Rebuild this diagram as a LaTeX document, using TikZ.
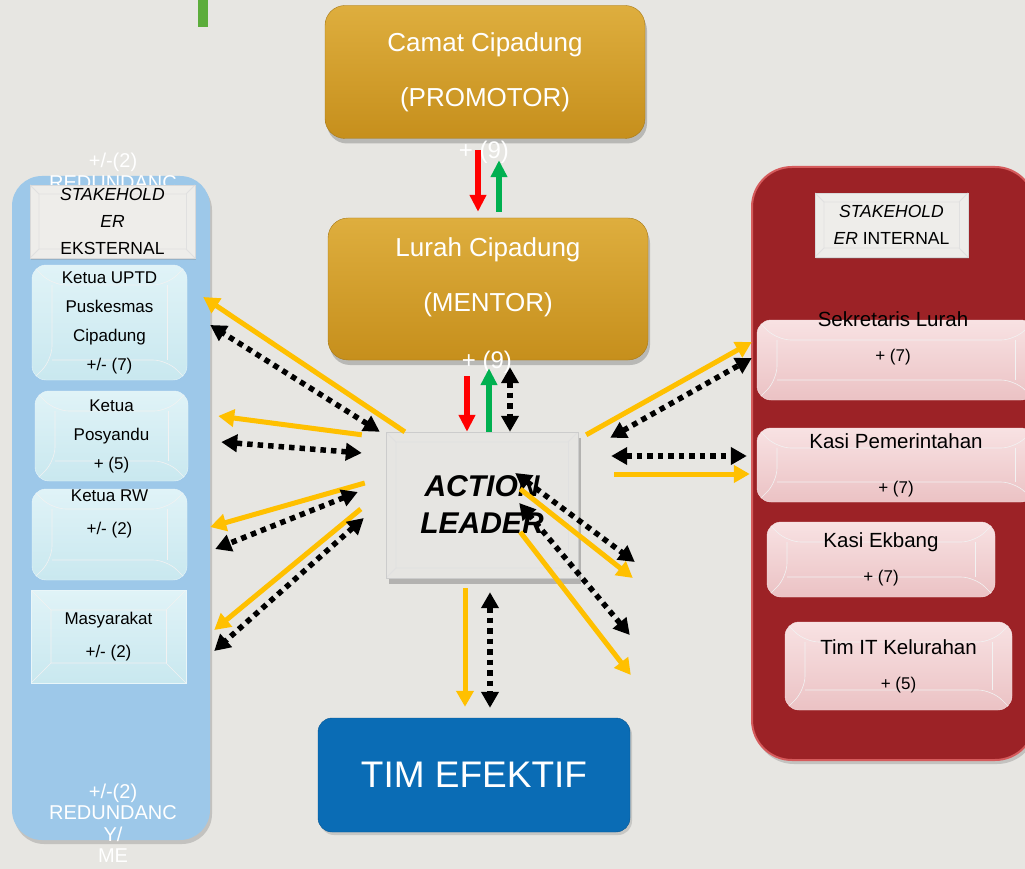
\documentclass[tikz,border=0pt]{standalone}
\usepackage{fontspec}
\setmainfont{Liberation Sans}
\usetikzlibrary{arrows.meta,shadows,calc,positioning}

\definecolor{bg}{HTML}{E7E6E2}
\definecolor{goldtop}{HTML}{DEAE3E}
\definecolor{goldbot}{HTML}{C68F1C}
\definecolor{skyp}{HTML}{9DC8E9}
\definecolor{cyantop}{HTML}{E0F3F7}
\definecolor{cyanbot}{HTML}{C9E8EF}
\definecolor{wine}{HTML}{9C2226}
\definecolor{pinktop}{HTML}{F8E2E3}
\definecolor{pinkbot}{HTML}{EBC2C4}
\definecolor{timblue}{HTML}{0A6CB5}
\definecolor{headwhite}{HTML}{EEEDEA}
\definecolor{leadgray}{HTML}{E6E5E2}
\definecolor{ylw}{HTML}{FFC000}
\definecolor{grn}{HTML}{00B050}
\definecolor{bar}{HTML}{5CAD3B}

\newcommand{\nilai}[1]{{\fontsize{17}{17}\selectfont #1}}

\tikzset{bevel line/.style={draw=black!12, line width=0.8pt},
  bevel/.style={path picture={
  \draw[bevel line]
    (path picture bounding box.north west) -- ([shift={(#1,-#1)}]path picture bounding box.north west)
    -- ([shift={(-#1,-#1)}]path picture bounding box.north east) -- (path picture bounding box.north east);
  \draw[bevel line]
    ([shift={(#1,-#1)}]path picture bounding box.north west) -- ([shift={(#1,#1)}]path picture bounding box.south west)
    -- (path picture bounding box.south west);
  \draw[bevel line]
    ([shift={(#1,#1)}]path picture bounding box.south west) -- ([shift={(-#1,#1)}]path picture bounding box.south east)
    -- (path picture bounding box.south east);
  \draw[bevel line]
    ([shift={(-#1,-#1)}]path picture bounding box.north east) -- ([shift={(-#1,#1)}]path picture bounding box.south east);
  }}, bevel/.default=10pt}

\tikzstyle{goldtext}=[text=white, align=center, font=\fontsize{26}{55}\selectfont]
\tikzstyle{goldbox}=[goldtext, rectangle, rounded corners=20pt, top color=goldtop, bottom color=goldbot,
  draw=goldbot!85!black, minimum width=320pt, drop shadow={opacity=0.45, shadow xshift=2pt, shadow yshift=-5pt}]
\tikzstyle{leaderbox}=[rectangle, fill=leadgray, draw=black!20, minimum width=192pt, minimum height=146pt,
  align=center, font=\fontsize{30}{37}\selectfont\bfseries\itshape, bevel=10pt,
  drop shadow={opacity=0.5, shadow xshift=3pt, shadow yshift=-6pt}]
\tikzstyle{timbox}=[rectangle, rounded corners=14pt, fill=timblue, draw=timblue!80!black, text=white,
  minimum width=312pt, minimum height=114pt, font=\fontsize{37}{37}\selectfont,
  drop shadow={opacity=0.3, shadow xshift=2pt, shadow yshift=-3pt}]
\tikzstyle{panel}=[rectangle, rounded corners=30pt, drop shadow={opacity=0.35, shadow xshift=2pt, shadow yshift=-4pt}]
\tikzstyle{header}=[rectangle, fill=headwhite, draw=black!15, bevel=9pt, align=center,
  font=\fontsize{17.5}{27}\selectfont, drop shadow={opacity=0.3, shadow xshift=1pt, shadow yshift=-2pt}]
\tikzstyle{cyantext}=[align=center, font=\fontsize{17}{29}\selectfont]
\tikzstyle{cyanbox}=[cyantext, rectangle, rounded corners=14pt, top color=cyantop, bottom color=cyanbot,
  draw=white!60!cyanbot, bevel line/.style={draw=black!5, line width=0.6pt}, bevel=20pt]
\tikzstyle{pinktext}=[align=center, font=\fontsize{20.5}{35}\selectfont]
\tikzstyle{pinkbox}=[pinktext, rectangle, rounded corners=14pt, top color=pinktop, bottom color=pinkbot,
  draw=white!50!pinkbot, bevel line/.style={draw=black!5, line width=0.6pt}, bevel=20pt]
\tikzstyle{redund}=[text=white, align=center, font=\fontsize{20}{21.5}\selectfont]
\tikzstyle{skor}=[text=white, font=\fontsize{24}{24}\selectfont]

\tikzstyle{yarrow}=[-{Triangle[length=16pt,width=17pt]}, draw=ylw, line width=5pt]
\tikzstyle{dotarrow}=[{Triangle[length=16pt,width=17pt]}-{Triangle[length=16pt,width=17pt]}, draw=black,
  line width=5.5pt, dash pattern=on 5.5pt off 5pt]
\tikzstyle{redarrow}=[-{Triangle[length=17pt,width=16pt]}, draw=red, line width=6pt]
\tikzstyle{grnarrow}=[-{Triangle[length=17pt,width=16pt]}, draw=grn, line width=6pt]

\begin{document}
\begin{tikzpicture}[x=1pt,y=-1pt]

    \useasboundingbox (0,0) rectangle (1025,869);
    \clip (0,0) rectangle (1025,869);
    \fill[bg] (0,0) rectangle (1025,869);
    \fill[bar] (198,0) rectangle (208,27);

    % stakeholder eksternal
    \node[panel, fill=skyp, minimum width=198pt, minimum height=664pt] (ekst) at (111,508) {};
    \node[redund] (redtop) at (113,193) {+/-(2)\\REDUNDANC\\Y/\\ME};
    \node[redund] (redbot) at (113,823) {+/-(2)\\REDUNDANC\\Y/\\ME};
    \node[header, minimum width=165pt, minimum height=67pt] (hdrL) at (112.5,221.5) {\textit{STAKEHOLD}\\\textit{ER}\\EKSTERNAL};
    \node[cyanbox, minimum width=155pt, minimum height=115pt] (uptd) at (109.5,322.5) {Ketua UPTD\\Puskesmas\\Cipadung\\+/- (7)};
    \node[cyanbox, minimum width=153pt, minimum height=90pt] (posy) at (111.5,436) {Ketua\\Posyandu\\+ (5)};
    \node[cyanbox, minimum width=155pt, minimum height=91pt,
      label={[cyantext, yshift=21pt]center:{Ketua RW\\[4pt]+/- (2)}}] (rw) at (109.5,534.5) {};
    \node[cyanbox, sharp corners, minimum width=155pt, minimum height=93pt] (masy) at (108.5,636.5) {Masyarakat\\[4pt]+/- (2)};

    % stakeholder internal
    \node[panel, rounded corners=40pt, fill=wine, draw=wine!60!red!70!white, line width=2pt,
      minimum width=283pt, minimum height=593pt] (intr) at (893.5,463.5) {};
    \node[header, minimum width=153pt, minimum height=64pt] (hdrR) at (891.5,225) {\textit{STAKEHOLD}\\\textit{ER} INTERNAL};
    \node[pinkbox, minimum width=278pt, minimum height=80pt,
      label={[pinktext, yshift=21.5pt, xshift=-3pt]center:{Sekretaris Lurah\\\nilai{+ (7)}}}] (sekr) at (896,360) {};
    \node[pinkbox, minimum width=278pt, minimum height=74pt] (pem) at (896,465) {Kasi Pemerintahan\\[10pt]\nilai{+ (7)}};
    \node[pinkbox, minimum width=228pt, minimum height=75pt] (ekb) at (881,559.5) {Kasi Ekbang\\\nilai{+ (7)}};
    \node[pinkbox, minimum width=227pt, minimum height=88pt] (tit) at (898.5,666) {Tim IT Kelurahan\\\nilai{+ (5)}};

    % promotor, mentor, leader, tim
    \node[goldbox, minimum height=133pt] (camat) at (485,72) {Camat Cipadung\\(PROMOTOR)};
    \node[goldbox, minimum height=142pt,
      label={[goldtext, yshift=11.5pt]center:{Lurah Cipadung\\(MENTOR)}}] (lurah) at (488,289) {};
    \node[leaderbox] (leader) at (482,505) {ACTION\\LEADER};
    \node[timbox] (tim) at (474,775) {TIM EFEKTIF};

    \node[skor] (skor1) at (484,152) {+ (9)};
    \node[skor] (skor2) at (487,362) {+ (9)};

    % promotor - mentor
    \draw[redarrow] ($(camat.south)+(-7,11.5)$) -- ($(lurah.north)+(-10,-6)$);
    \draw[grnarrow] ($(lurah.north)+(11,-6)$) -- ($(camat.south)+(14,21.5)$);

    % mentor - leader
    \draw[redarrow] ($(lurah.south)+(-21,16)$) -- ($(leader.north)+(-15,0)$);
    \draw[grnarrow] ($(leader.north)+(7,0)$) -- ($(lurah.south)+(1,8)$);
    \draw[dotarrow] ($(lurah.south)+(22,7)$) -- ($(leader.north)+(28,0)$);

    % leader - tim
    \draw[yarrow] ($(leader.south)+(-17,10)$) -- ($(tim.north)+(-9,-11)$);
    \draw[dotarrow] ($(leader.south)+(8,14)$) -- ($(tim.north)+(16,-10)$);

    % leader - eksternal
    \draw[yarrow] ($(leader.north west)+(19,0)$) -- ($(uptd.east)+(16,-25.5)$);
    \draw[dotarrow] ($(leader.north west)+(-6,0)$) -- ($(uptd.east)+(23,2.5)$);
    \draw[yarrow] ($(leader.north west)+(-24,3)$) -- ($(posy.east)+(30,-20)$);
    \draw[dotarrow] ($(leader.west)+(-24,-52)$) -- ($(posy.east)+(33,6)$);
    \draw[yarrow] ($(leader.west)+(-21,-22)$) -- ($(rw.east)+(23,-7.5)$);
    \draw[dotarrow] ($(leader.west)+(-28,-13)$) -- ($(rw.east)+(28,14.5)$);
    \draw[yarrow] ($(leader.west)+(-25,4)$) -- ($(masy.east)+(28,-6.5)$);
    \draw[dotarrow] ($(leader.west)+(-22,13)$) -- ($(masy.east)+(28,14.5)$);

    % leader - internal
    \draw[yarrow] ($(leader.north east)+(8,3)$) -- ($(sekr.west)+(-5,-18)$);
    \draw[dotarrow] ($(leader.north east)+(32,6)$) -- ($(sekr.west)+(-5,-2)$);
    \draw[dotarrow] ($(leader.east)+(33,-49)$) -- ($(pem.west)+(-10,-9)$);
    \draw[yarrow] ($(leader.east)+(36,-31)$) -- ($(pem.west)+(-7,9)$);
    \draw[dotarrow] ($(leader.east)+(-63,-32)$) -- ($(ekb.west)+(-132,2.5)$);
    \draw[yarrow] ($(leader.east)+(-58,-16)$) -- ($(ekb.west)+(-134,18.5)$);
    \draw[dotarrow] ($(leader.east)+(-59,-2)$) -- ($(tit.west)+(-155,-31)$);
    \draw[yarrow] ($(leader.east)+(-58,27)$) -- ($(tit.west)+(-154,9)$);

\end{tikzpicture}
\end{document}
